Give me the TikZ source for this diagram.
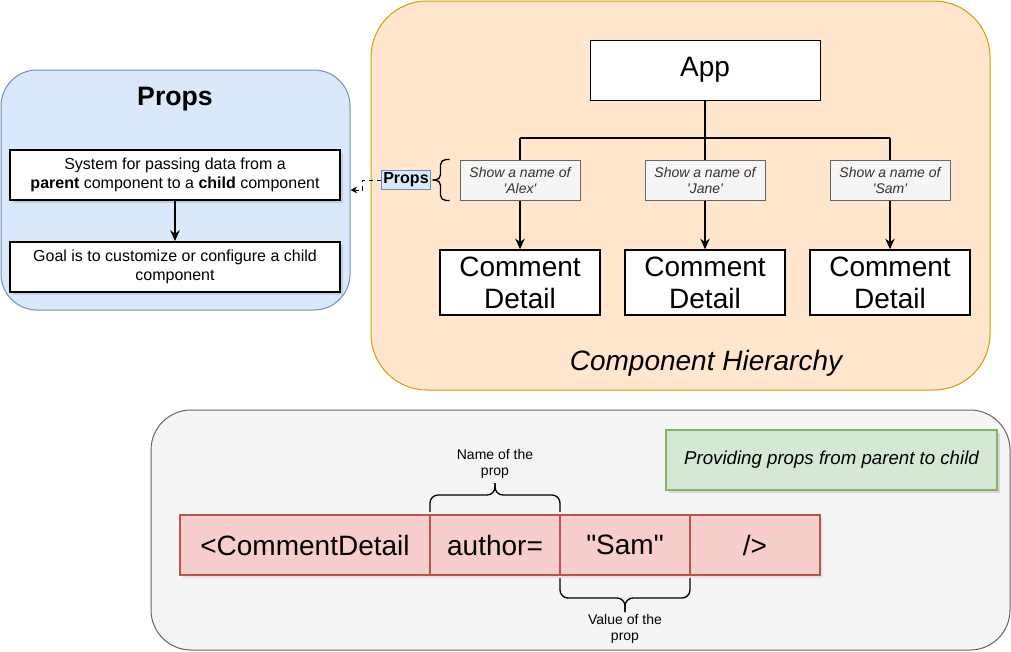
\documentclass[tikz,border=0pt]{standalone}
\usepackage{fontspec}
\setmainfont{Liberation Sans}
\usetikzlibrary{arrows.meta,positioning,shapes,calc,shadows}

\definecolor{blueFill}{HTML}{DAE8FC}
\definecolor{blueLine}{HTML}{6C8EBF}
\definecolor{orangeFill}{HTML}{FFE6CC}
\definecolor{orangeLine}{HTML}{D79B00}
\definecolor{grayFill}{HTML}{F5F5F5}
\definecolor{grayLine}{HTML}{666666}
\definecolor{grayText}{HTML}{333333}
\definecolor{greenFill}{HTML}{D5E8D4}
\definecolor{greenLine}{HTML}{82B366}
\definecolor{redFill}{HTML}{F8CECC}
\definecolor{redLine}{HTML}{B85450}

\newcommand{\titletxt}{\fontsize{20}{24}\selectfont\bfseries}
\newcommand{\bigtxt}{\fontsize{21}{24}\selectfont}
\newcommand{\notetxt}{\fontsize{14}{17}\selectfont\itshape}
\newcommand{\midtxt}{\fontsize{12}{14.25}\selectfont}
\newcommand{\smalltxt}{\fontsize{10.5}{12}\selectfont}

\tikzset{
  panel/.style={rectangle, line width=0.75pt},
  infobox/.style={draw, line width=1.5pt, fill=white, align=center, font=\midtxt,
    minimum width=247.5pt, minimum height=37.5pt,
    drop shadow={shadow xshift=2pt, shadow yshift=-2pt, opacity=0.25}},
  appbox/.style={draw, line width=0.75pt, fill=white, font=\bigtxt,
    minimum width=172.5pt, minimum height=45pt},
  namebox/.style={draw=grayLine, line width=0.75pt, fill=grayFill, text=grayText,
    align=center, font=\smalltxt\itshape, minimum width=90pt, minimum height=30pt, inner sep=1pt},
  detailbox/.style={draw, line width=1pt, fill=white, align=center, font=\bigtxt,
    minimum width=120pt, minimum height=48.75pt, inner sep=1pt},
  propslbl/.style={draw=blueLine, line width=0.75pt, fill=blueFill, font=\midtxt\bfseries,
    inner sep=1.5pt, minimum height=14pt},
  cell/.style={draw=redLine, line width=1.5pt, fill=redFill, font=\bigtxt, outer sep=0pt,
    minimum width=97.5pt, minimum height=45pt,
    drop shadow={shadow xshift=2pt, shadow yshift=-2pt, opacity=0.15}},
  notebox/.style={draw=greenLine, line width=1.5pt, fill=greenFill, font=\notetxt,
    minimum width=248.25pt, minimum height=45pt,
    drop shadow={shadow xshift=2pt, shadow yshift=-2pt, opacity=0.25}},
  note/.style={font=\smalltxt, align=center},
  treeLine/.style={line width=1.5pt},
  treeArrow/.style={line width=1.5pt, -{Stealth[length=8pt, width=7pt]}},
  dashArrow/.style={dashed, line width=0.75pt, -{Stealth[length=5pt, width=5pt]}},
  bracket/.style={line width=1pt, rounded corners=#1},
  bracket/.default=6pt
}

\begin{document}
\begin{tikzpicture}[x=0.75pt, y=-0.75pt, node distance=30pt]
  \useasboundingbox (0,0) rectangle (1011,651);

  % panels
  \node[panel, fill=blueFill, draw=blueLine, rounded corners=27pt,
    minimum width=261.75pt, minimum height=180pt] (propsPanel) at (175.5,190) {};
  \node[panel, fill=orangeFill, draw=orangeLine, rounded corners=42pt,
    minimum width=464.25pt, minimum height=291.75pt] (treePanel) at (680.5,195.5) {};
  \node[panel, fill=grayFill, draw=grayLine, rounded corners=30pt,
    minimum width=644.25pt, minimum height=180pt] (jsxPanel) at (580.5,530) {};

  % what props are
  \node[font=\titletxt] (propsTitle) at (175,99) {Props};
  \node[infobox] (defBox) at (175,175) {System for passing data from a\\\textbf{parent} component to a \textbf{child} component};
  \node[infobox, below=of defBox] (goalBox) {Goal is to customize or configure a child\\component};
  \draw[treeArrow] (defBox) -- (goalBox);

  % component tree
  \node[appbox] (app) at (705,70) {App};
  \foreach \nm/\xx in {Alex/520, Jane/705, Sam/890} {
    \node[namebox] (name\nm) at (\xx,180) {Show a name of\\\textquotesingle\nm\textquotesingle};
    \node[detailbox] (detail\nm) at (\xx,282.5) {Comment\\Detail};
  }
  \coordinate (split) at (705,138);
  \draw[treeLine] (app) -- (split);
  \draw[treeLine] (nameAlex.north |- split) -- (nameSam.north |- split);
  \foreach \nm in {Alex, Jane, Sam} {
    \draw[treeLine] (name\nm.north |- split) -- (name\nm);
    \draw[treeArrow] (name\nm) -- (detail\nm);
  }
  \node[font=\bigtxt\itshape] (treeCaption) at (706,363) {Component Hierarchy};

  % props label with its bracket
  \draw[bracket=4pt] ($(nameAlex.north west)+(-10,0)$) -| ($(nameAlex.west)+(-19,0)$) -- ++(-8,0) coordinate (lblTip);
  \draw[bracket=4pt] ($(nameAlex.south west)+(-10,0)$) -| ($(nameAlex.west)+(-19,0)$) -- ++(-8,0);
  \node[propslbl, left=1pt of lblTip] (propsLbl) {Props};
  \draw[dashArrow] (propsLbl.west) -- ++(-18,0) |- (propsPanel.east);

  % jsx line
  \node[notebox] (noteBox) at (831.5,460) {Providing props from parent to child};
  \node[cell, minimum width=187.5pt] (cellOpen) at (305,545) {<CommentDetail};
  \node[cell, right=0pt of cellOpen] (cellProp) {author=};
  \node[cell, right=0pt of cellProp] (cellValue) {\textquotedbl Sam\textquotedbl};
  \node[cell, right=0pt of cellValue] (cellClose) {/>};

  \draw[bracket] ($(cellProp.north west)+(0,-3)$) |- ($(cellProp.north)+(0,-20)$) -- ++(0,-12) coordinate (nameTip);
  \draw[bracket] ($(cellProp.north east)+(0,-3)$) |- ($(cellProp.north)+(0,-20)$) -- ++(0,-12);
  \node[note, above=0pt of nameTip] (nameLbl) {Name of the\\prop};

  \draw[bracket] ($(cellValue.south west)+(0,3)$) |- ($(cellValue.south)+(0,23)$) -- ++(0,14) coordinate (valueTip);
  \draw[bracket] ($(cellValue.south east)+(0,3)$) |- ($(cellValue.south)+(0,23)$) -- ++(0,14);
  \node[note, below=-2pt of valueTip] (valueLbl) {Value of the\\prop};
\end{tikzpicture}
\end{document}
